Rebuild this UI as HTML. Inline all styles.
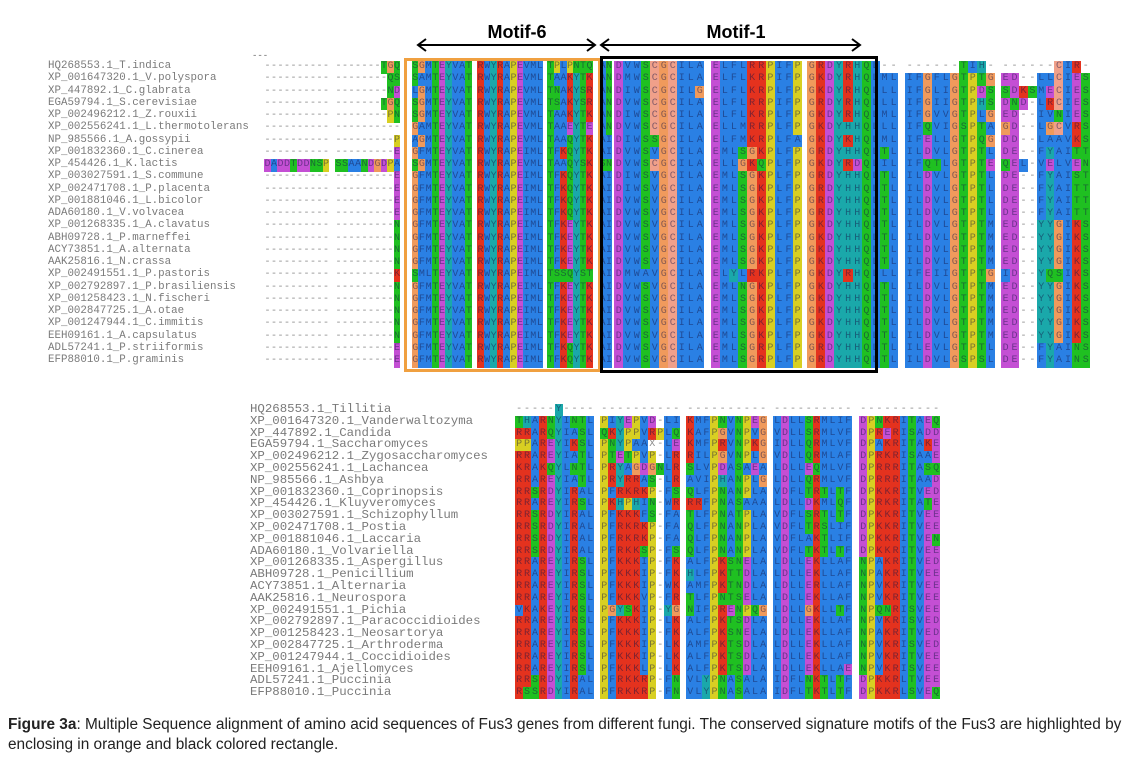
<!DOCTYPE html>
<html><head><meta charset="utf-8">
<style>
body{margin:0;background:#fff;width:1136px;height:763px;overflow:hidden;position:relative;font-family:"Liberation Sans",sans-serif}
.nm{position:absolute;font-family:"Liberation Mono",monospace;color:#7a7a7a;white-space:pre;line-height:1}
.c{position:absolute;font-family:"Liberation Mono",monospace;text-align:center;color:rgba(20,20,70,.5);font-size:10px}
.d{color:#8a8a8a}
#cap{position:absolute;left:8px;top:715px;width:1130px;font-size:15.4px;line-height:20px;color:#222}
</style></head><body>
<svg width="1136" height="763" style="position:absolute;left:0;top:0">
<text x="517" y="38" font-family="Liberation Sans" font-weight="bold" font-size="18" text-anchor="middle">Motif-6</text>
<text x="736" y="38" font-family="Liberation Sans" font-weight="bold" font-size="18" text-anchor="middle">Motif-1</text>
<g stroke="#000" stroke-width="2" fill="none">
<path d="M418 45H595M426 39L418 45L426 51M587 39L595 45L587 51"/>
<path d="M601 45H860M609 39L601 45L609 51M852 39L860 45L852 51"/>
</g>
<text x="252" y="58" font-size="9" fill="#666" font-family="Liberation Mono">---</text>
</svg>
<div id="root"></div>
<div id="cap"><b>Figure 3a</b>: Multiple Sequence alignment of amino acid sequences of Fus3 genes from different fungi. The conserved signature motifs of the Fus3 are highlighted by enclosing in orange and black colored rectangle.</div>
<script>
const topNames=["HQ268553.1_T.indica","XP_001647320.1_V.polyspora","XP_447892.1_C.glabrata","EGA59794.1_S.cerevisiae","XP_002496212.1_Z.rouxii","XP_002556241.1_L.thermotolerans","NP_985566.1_A.gossypii","XP_001832360.1_C.cinerea","XP_454426.1_K.lactis","XP_003027591.1_S.commune","XP_002471708.1_P.placenta","XP_001881046.1_L.bicolor","ADA60180.1_V.volvacea","XP_001268335.1_A.clavatus","ABH09728.1_P.marneffei","ACY73851.1_A.alternata","AAK25816.1_N.crassa","XP_002491551.1_P.pastoris","XP_002792897.1_P.brasiliensis","XP_001258423.1_N.fischeri","XP_002847725.1_A.otae","XP_001247944.1_C.immitis","EEH09161.1_A.capsulatus","ADL57241.1_P.striiformis","EFP88010.1_P.graminis"];
const topSeqs=[
["----------","-------TGQ"," SGMTEYVAT","RWYRAPEVML","TPLPNTQ AN","DVWSCGCILA","ELFLRRPIFP","GRDYRHQL--","------TIH-","------CIR-"],
["----------","--------QS"," SAMTEYVAT","RWYRAPEVML","TAAKYTK AN","DMWSCGCILA","ELFLKRPIFP","GKDYRHQLML","IFGFLGTPTG","ED--LLCIES"],
["----------","--------ND"," LGMTEYVAT","RWYRAPEVML","TNAKYSR AN","DIWSCGCILG","ELFLKRPLFP","GKDYRHQLLL","IFGLIGTPDS","SDKSMECIES"],
["----------","-------TGQ"," SGMTEYVAT","RWYRAPEVML","TSAKYSR AN","DVWSCGCILA","ELFLRRPIFP","GRDYRHQLLL","IFGIIGTPHS","DND-LRCIES"],
["----------","--------PN"," SGMTEYVAT","RWYRAPEVML","TAAKYTK AN","DIWSCGCILA","ELFLKRPLFP","GKDYRHQLML","IFGVVGTPLG","ED--IVNIES"],
["----------","----------"," GAMTEYVAT","RWYRAPEVML","TAAEYTE AN","DVWSCGCILA","ELLMRRPLFP","GKDYHHQLLL","IFQVIGSPTA","GD--LGCVRS"],
["----------","---------P"," AGMTEYVAT","RWYRAPEVML","TAAQYTK AI","DIWSSGCILA","ELFMKRPLFA","GKDYKHQLML","IFELLGTPQG","DD--LAAVKS"],
["----------","---------E"," GFMTEYVAT","RWYRAPEIML","TFKQYTK AI","DVWSVGCILA","EMLSGKPLFP","GRDYHHQLTL","ILDVLGTPTL","DE--FYAITT"],
["DADDTDDNSP","SSAANDGDPA"," SGMTEYVAT","RWYRAPEVML","TAAQYSK SN","DVWSCGCILA","ELLGKQPLFP","GKDYRDQLIL","IFQTLGTPTE","QEL-VELVEN"],
["----------","---------E"," GFMTEYVAT","RWYRAPEIML","TFKQYTK AI","DIWSVGCILA","EMLSGKPLFP","GRDYHHQLTL","ILDVLGTPTL","DE--FYAIST"],
["----------","---------E"," GFMTEYVAT","RWYRAPEIML","TFKQYTK AI","DIWSVGCILA","EMLSGKPLFP","GRDYHHQLTL","ILDVLGTPTL","DE--FYAITT"],
["----------","---------E"," GFMTEYVAT","RWYRAPEIML","TFKQYTK AI","DVWSVGCILA","EMLSGKPLFP","GRDYHHQLTL","ILDVLGTPTL","DE--FYAITT"],
["----------","---------E"," GFMTEYVAT","RWYRAPEIML","TFKQYTK AI","DVWSVGCILA","EMLSGKPLFP","GRDYHHQLTL","ILDVLGTPTL","DE--FYAITT"],
["----------","---------N"," GFMTEYVAT","RWYRAPEIML","TFKEYTK AI","DVWSVGCILA","EMLSGKPLFP","GKDYHHQLTL","ILDVLGTPTM","ED--YYGIKS"],
["----------","---------N"," GFMTEYVAT","RWYRAPEIML","TFKEYTK AI","DVWSVGCILA","EMLSGKPLFP","GKDYHHQLTL","ILDVLGTPTM","ED--YYGIKS"],
["----------","---------N"," GFMTEYVAT","RWYRAPEIML","TFKEYTK AI","DVWSVGCILA","EMLSGKPLFP","GKDYHHQLTL","ILDVLGTPTM","ED--YYGIKS"],
["----------","---------N"," GFMTEYVAT","RWYRAPEIML","TFKEYTK AI","DVWSVGCILA","EMLSGKPLFP","GKDYHHQLTL","ILDVLGTPTM","ED--YYGIKS"],
["----------","---------K"," SMLTEYVAT","RWYRAPEIML","TSSQYST AI","DMWAVGCILA","ELYLRKPLFP","GKDYRHQLLL","IFEIIGTPTG","ID--YQSIKS"],
["----------","---------N"," GFMTEYVAT","RWYRAPEIML","TFKEYTK AI","DVWSVGCILA","EMLNGKPLFP","GKDYHHQLTL","ILDVLGTPTM","ED--YYGIKS"],
["----------","---------N"," GFMTEYVAT","RWYRAPEIML","TFKEYTK AI","DVWSVGCILA","EMLSGKPLFP","GKDYHHQLTL","ILDVLGTPTM","ED--YYGIKS"],
["----------","---------N"," GFMTEYVAT","RWYRAPEIML","TFKEYTK AI","DVWSVGCILA","EMLSGKPLFP","GKDYHHQLTL","ILDVLGTPTM","ED--YYGIKS"],
["----------","---------N"," GFMTEYVAT","RWYRAPEIML","TFKEYTK AI","DVWSVGCILA","EMLSGKPLFP","GKDYHHQLTL","ILDVLGTPTM","ED--YYGIKS"],
["----------","---------N"," GFMTEYVAT","RWYRAPEIML","TFKEYTK AI","DVWSVGCILA","EMLSGKPLFP","GKDYHHQLTL","ILDVLGTPTM","ED--YYGIKS"],
["----------","---------E"," GFMTEYVAT","RWYRAPEIML","TFKQYTK AI","DVWSVGCILA","EMLSGRPLFP","GRDYHHQLTL","ILEVLGTPTL","DE--FYAINS"],
["----------","---------E"," GFMTEYVAT","RWYRAPEIML","TFKQYTK AI","DVWSVGCILA","EMLSGRPLFP","GRDYHHQLTL","ILDVLGSPSL","DE--FYAINS"]];
const botNames=["HQ268553.1_Tillitia","XP_001647320.1_Vanderwaltozyma","XP_447892.1_Candida","EGA59794.1_Saccharomyces","XP_002496212.1_Zygosaccharomyces","XP_002556241.1_Lachancea","NP_985566.1_Ashbya","XP_001832360.1_Coprinopsis","XP_454426.1_Kluyveromyces","XP_003027591.1_Schizophyllum","XP_002471708.1_Postia","XP_001881046.1_Laccaria","ADA60180.1_Volvariella","XP_001268335.1_Aspergillus","ABH09728.1_Penicillium","ACY73851.1_Alternaria","AAK25816.1_Neurospora","XP_002491551.1_Pichia","XP_002792897.1_Paracoccidioides","XP_001258423.1_Neosartorya","XP_002847725.1_Arthroderma","XP_001247944.1_Coccidioides","EEH09161.1_Ajellomyces","ADL57241.1_Puccinia","EFP88010.1_Puccinia"];
const botSeqs=[
["-----Y----","----------","----------","----------","----------"],
["THARNYINTL","PIYEPVD-LI","KMFPNVNPEG","LDLLSRMLIF","DPNKRITAEQ"],
["RRARQYIASL","QKYPPVRPLQ","KAFPGVNPVG","VDLLSRMLVF","DPRERISADD"],
["PPAREYIKSL","PNYPAAX-LE","KMFPRVNPKG","IDLLQRMLVF","DPAKRITAKE"],
["RRAREYIATL","PTETPVP-LR","RILPGVNPLG","VDLLQRMLAF","DPRKRISAAE"],
["KRAKQYLNTL","PRYAGDGNLR","SLVPDASAEA","LDLLEQMLVF","DPRRRITASQ"],
["RRAREYIATL","PRYRRAS-LR","AVIPHANPLG","LDLLQRMLVF","DPRRRITAAD"],
["RRSRDYIRAL","PFRKRKP-FS","QLFPNANPLA","VDFLTRTLTF","DPKKRITVED"],
["RRAREYIRSL","PKHPHIN-WR","RRFPNASAAA","LDLLDKMLQF","DPRKRITATE"],
["RRSRDYIRAL","PFKKKFS-FA","TLFPNATPLA","VDFLSRTLTF","DPKKRITVEE"],
["RRSRDYIRAL","PFRKRKP-FA","QLFPNANPLA","VDFLTRSLIF","DPKKRITVEE"],
["RRSRDYIRAL","PFRKRKP-FA","QLFPNANPLA","VDFLAKTLIF","DPKKRITVEN"],
["RRSRDYIRAL","PFRKKSP-FS","QLFPNANPLA","VDFLTKTLTF","DPKKRITVEE"],
["RRAREYIRSL","PFKKKIP-FK","ALFPKSNELA","LDLLEKLLAF","NPAKRITVED"],
["RRAREYIRSL","PFKKKIP-FK","HLFPKTTDLA","LDLLEKLLAF","NPAKRITVEE"],
["RRAREYIRSL","PFKKKIP-WK","AMFPKTNDLA","LDLLERLLAF","NPVKRITVEE"],
["RRAREYIRSL","PFKKKVP-FR","TLFPNTSELA","LDLLEKLLAF","NPVKRITVEE"],
["VKAKEYIKSL","PGYSKIP-YG","NIFPRENPQG","LDLLGKLLTF","NPQNRISVEE"],
["RRAREYIRSL","PFKKKIP-LK","ALFPKTSDLA","LDLLEKLLAF","NPVKRISVED"],
["RRAREYIRSL","PFKKKIP-FK","ALFPKSNELA","LDLLEKLLAF","NPAKRITVED"],
["RRAREYIRSL","PFKKKIP-LK","AMFPKTSDLA","LDLLEKLLAF","NPVKRISVED"],
["RRAREYIRSL","PFKKKIP-LK","ALFPKTSDLA","LDLLEKLLAF","NPVKRITVEE"],
["RRAREYIRSL","PFKKKLP-LK","ALFPKTSDLA","LDLLEKLLAE","NPVKRISVEE"],
["RRSRDYIRAL","PFRKKRP-FN","VLYPNASALA","IDFLNKTLTF","DPKKRLTVEE"],
["RSSRDYIRAL","PFRKKRP-FN","VLYPNASALA","IDFLTKTLTF","DPKKRLSVEQ"]];
const colors={A:"#2a80e4",I:"#2a80e4",L:"#2a80e4",M:"#2a80e4",F:"#2a80e4",W:"#2a80e4",V:"#2a80e4",
K:"#e4321e",R:"#e4321e",E:"#c44fd4",D:"#c44fd4",N:"#1fc021",Q:"#1fc021",S:"#1fc021",T:"#1fc021",
G:"#f09a5c",C:"#f0a08a",P:"#d8cf22",H:"#1aa8aa",Y:"#1aa8aa"};
const root=document.getElementById('root');
function draw(names,seqs,blocks,y0,rh,nameX,nameSize,tag){
  names.forEach((n,i)=>{
    const y=y0+i*rh;
    const t=document.createElement('div');t.className='nm';
    
    
    t.style.left=nameX+'px';t.style.top=(y+rh/2-nameSize*0.55)+'px';t.style.fontSize=nameSize+'px';
    t.textContent=n;root.appendChild(t);
    seqs[i].forEach((s,b)=>{
      const [x0,x1]=blocks[b];const w=(x1-x0)/10;
      for(let k=0;k<s.length;k++){
        const ch=s[k];if(ch===' ')continue;
        const c=document.createElement('div');c.className='c';
        
        
        c.style.left=(x0+k*w)+'px';c.style.top=y+'px';c.style.width=(w+0.4)+'px';c.style.height=(rh+0.4)+'px';c.style.lineHeight=rh+'px';
        if(colors[ch])c.style.background=colors[ch];else c.classList.add('d');
        c.textContent=ch;root.appendChild(c);
      }
    });
  });
}
const topBlocks=[[264,329],[335,400],[405,472],[477,543],[547,612],[614,704],[711,802],[807,898],[905,995],[1001,1090]];
const botBlocks=[[515,594],[600,680],[686,767],[773,852],[859,940]];
draw(topNames,topSeqs,topBlocks,61,12.25,48,10.8,'top');
draw(botNames,botSeqs,botBlocks,404,11.8,250,12.4,'bottom');
function box(l,t,w,h,col,bw,name){const d=document.createElement('div');


d.style.cssText=`position:absolute;left:${l}px;top:${t}px;width:${w}px;height:${h}px;border:${bw}px solid ${col};box-sizing:border-box`;root.appendChild(d);}
box(404,58,197,314,'#f0a040',3,'motif-6-box');
box(600,56,278,317,'#000',3,'motif-1-box');
</script>
</body></html>
